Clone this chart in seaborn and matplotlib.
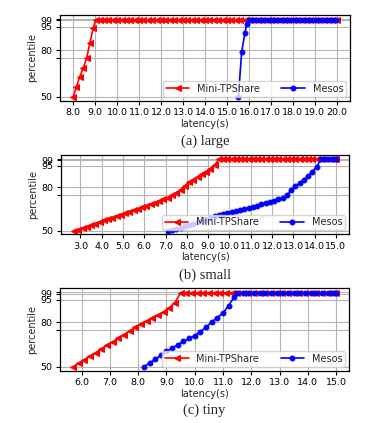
import matplotlib
matplotlib.use("Agg")
import matplotlib.pyplot as plt
import seaborn as sns
import pandas as pd

# ---------------- data ----------------
# (a) large
a_tp_x = [8.0, 8.15, 8.3, 8.46, 8.61, 8.76, 8.91, 9.03,
          9.2, 9.4, 9.6, 9.8, 10.0, 10.2, 10.4, 10.6, 10.8, 11.0, 11.2, 11.4, 11.6, 11.8,
          12.0, 12.2, 12.4, 12.6, 12.8, 13.0, 13.2, 13.4, 13.6, 13.8, 14.0, 14.2, 14.4,
          14.6, 14.8, 15.0, 15.2, 15.4, 15.6, 15.8, 16.0, 16.2, 16.4, 16.6, 16.8, 17.0,
          17.2, 17.4, 17.6, 17.8, 18.0, 18.2, 18.4, 18.6, 18.8, 19.0, 19.2, 19.4, 19.6,
          19.8, 20.0]
a_tp_y = [50.0, 56.5, 62.8, 68.6, 74.7, 84.5, 94.0, 99.5,
          99.5, 99.5, 99.5, 99.5, 99.5, 99.5, 99.5, 99.5, 99.5, 99.5, 99.5, 99.5, 99.5, 99.5,
          99.5, 99.5, 99.5, 99.5, 99.5, 99.5, 99.5, 99.5, 99.5, 99.5, 99.5, 99.5, 99.5,
          99.5, 99.5, 99.5, 99.5, 99.5, 99.5, 99.5, 99.5, 99.5, 99.5, 99.5, 99.5, 99.5,
          99.5, 99.5, 99.5, 99.5, 99.5, 99.5, 99.5, 99.5, 99.5, 99.5, 99.5, 99.5, 99.5,
          99.5, 99.5]
a_me_x = [15.52, 15.67, 15.82, 15.9, 16.0, 16.2, 16.4, 16.6, 16.8, 17.0, 17.2, 17.4,
          17.6, 17.8, 18.0, 18.2, 18.4, 18.6, 18.8, 19.0, 19.2, 19.4, 19.6, 19.8, 19.95]
a_me_y = [50.0, 79.0, 91.0, 97.0, 99.5, 99.5, 99.5, 99.5, 99.5, 99.5, 99.5, 99.5,
          99.5, 99.5, 99.5, 99.5, 99.5, 99.5, 99.5, 99.5, 99.5, 99.5, 99.5, 99.5, 99.5]

# (b) small
b_tp_x = [2.7, 2.9, 3.1, 3.3, 3.5, 3.7, 3.9, 4.1, 4.3, 4.5, 4.7, 4.9, 5.1, 5.3, 5.5,
          5.7, 5.9, 6.1, 6.3, 6.5, 6.7, 6.9, 7.1, 7.3, 7.5, 7.7, 7.9, 8.1, 8.3, 8.5,
          8.7, 8.9, 9.1, 9.3, 9.5,
          9.7, 9.9, 10.1, 10.3, 10.5, 10.7, 10.9, 11.1, 11.3, 11.5, 11.7, 11.9, 12.1,
          12.3, 12.5, 12.7, 12.9, 13.1, 13.3, 13.5, 13.7, 13.9, 14.1, 14.3, 14.5, 14.7,
          14.9, 15.0]
b_tp_y = [50.0, 50.8, 51.7, 52.7, 53.8, 54.9, 56.0, 57.1, 58.1, 59.1, 60.1, 61.1, 62.1,
          63.1, 64.1, 65.1, 66.2, 67.3, 68.4, 69.5, 70.6, 71.7, 73.0, 74.5, 76.3, 78.5,
          81.0, 83.5, 85.5, 87.5, 89.3, 91.0, 93.0, 95.5, 99.5,
          99.5, 99.5, 99.5, 99.5, 99.5, 99.5, 99.5, 99.5, 99.5, 99.5, 99.5, 99.5, 99.5,
          99.5, 99.5, 99.5, 99.5, 99.5, 99.5, 99.5, 99.5, 99.5, 99.5, 99.5, 99.5, 99.5,
          99.5, 99.5]
b_me_x = [7.1, 7.3, 7.5, 7.7, 7.9, 8.1, 8.3, 8.5, 8.7, 8.9, 9.1, 9.3, 9.5, 9.7, 9.9,
          10.1, 10.3, 10.5, 10.7, 10.9, 11.1, 11.3, 11.5, 11.7, 11.9, 12.1, 12.3, 12.5,
          12.7, 12.9, 13.1, 13.3, 13.5, 13.7, 13.9, 14.1, 14.3, 14.5, 14.7, 14.9, 15.0]
b_me_y = [50.0, 50.5, 51.3, 52.1, 53.0, 53.9, 54.8, 55.7, 56.7, 57.7, 58.8, 59.9, 61.0,
          61.7, 62.3, 62.9, 63.6, 64.3, 65.0, 65.8, 66.6, 67.4, 68.2, 69.0, 69.9, 70.9,
          71.8, 72.8, 74.6, 78.0, 81.0, 83.0, 85.5, 88.0, 91.0, 94.5, 99.5, 99.5, 99.5,
          99.5, 99.5]

# (c) tiny
c_tp_x = [5.7, 5.9, 6.1, 6.3, 6.5, 6.7, 6.9, 7.1, 7.3, 7.5, 7.7, 7.9, 8.1, 8.3, 8.5,
          8.7, 8.9, 9.1, 9.3, 9.5,
          9.7, 9.9, 10.1, 10.3, 10.5, 10.7, 10.9, 11.1, 11.3, 11.5, 11.7, 11.9, 12.1,
          12.3, 12.5, 12.7, 12.9, 13.1, 13.3, 13.5, 13.7, 13.9, 14.1, 14.3, 14.5, 14.7,
          14.9, 15.0]
c_tp_y = [50.0, 52.4, 54.8, 57.2, 59.6, 62.0, 64.4, 66.8, 69.2, 71.6, 74.0, 76.4, 78.6,
          80.6, 82.4, 84.4, 86.8, 89.5, 93.0, 99.5,
          99.5, 99.5, 99.5, 99.5, 99.5, 99.5, 99.5, 99.5, 99.5, 99.5, 99.5, 99.5, 99.5,
          99.5, 99.5, 99.5, 99.5, 99.5, 99.5, 99.5, 99.5, 99.5, 99.5, 99.5, 99.5, 99.5,
          99.5, 99.5]
c_me_x = [8.2, 8.4, 8.6, 8.8, 9.0, 9.2, 9.4, 9.6, 9.8, 10.0, 10.2, 10.4, 10.6, 10.8,
          11.0, 11.2, 11.4, 11.5, 11.7, 11.9, 12.1, 12.3, 12.5, 12.7, 12.9, 13.1, 13.3,
          13.5, 13.7, 13.9, 14.1, 14.3, 14.5, 14.7, 14.9, 15.0]
c_me_y = [50.0, 52.7, 55.0, 57.7, 60.4, 62.7, 64.9, 67.0, 69.0, 70.9, 73.5, 76.6, 80.0,
          83.0, 86.0, 91.0, 97.0, 99.5, 99.5, 99.5, 99.5, 99.5, 99.5, 99.5, 99.5, 99.5,
          99.5, 99.5, 99.5, 99.5, 99.5, 99.5, 99.5, 99.5, 99.5, 99.5]

xticks_a = [8.0, 9.0, 10.0, 11.0, 12.0, 13.0, 14.0, 15.0, 16.0, 17.0, 18.0, 19.0, 20.0]
xticks_b = [3.0, 4.0, 5.0, 6.0, 7.0, 8.0, 9.0, 10.0, 11.0, 12.0, 13.0, 14.0, 15.0]
xticks_c = [6.0, 7.0, 8.0, 9.0, 10.0, 11.0, 12.0, 13.0, 14.0, 15.0]
yticks = [50, 75, 80, 95, 99, 99.9]
ytick_labels = ["50", "", "80", "95", "99", ""]
captions = ["(a) large", "(b) small", "(c) tiny"]
series_names = ["Mini-TPShare", "Mesos"]

# ---------------- style ----------------
sns.set_style("whitegrid", {"axes.edgecolor": "black", "grid.color": "#b5b5b5",
                            "xtick.bottom": True, "ytick.left": True})
plt.rcParams["font.family"] = ["DejaVu Sans"]
plt.rcParams["axes.linewidth"] = 0.9
plt.rcParams["grid.linewidth"] = 0.8
plt.rcParams["xtick.major.size"] = 3
plt.rcParams["ytick.major.size"] = 3
plt.rcParams["xtick.major.pad"] = 2.5
plt.rcParams["ytick.major.pad"] = 2.5
plt.rcParams["xtick.color"] = "black"
plt.rcParams["ytick.color"] = "black"

fig = plt.figure(figsize=(3.68, 4.23), dpi=100)
W, H = 368.0, 423.0
boxes = [(60, 15, 350, 100.7), (61, 155, 349, 234.3), (60, 288.3, 349.3, 370.7)]
cap_y = [141, 275, 410]

panels = [
    (a_tp_x, a_tp_y, a_me_x, a_me_y, xticks_a),
    (b_tp_x, b_tp_y, b_me_x, b_me_y, xticks_b),
    (c_tp_x, c_tp_y, c_me_x, c_me_y, xticks_c),
]

for i, (tx, ty, mx, my, xt) in enumerate(panels):
    l, t, r, b = boxes[i]
    ax = fig.add_axes([l / W, 1 - b / H, (r - l) / W, (b - t) / H])
    df_tp = pd.DataFrame({"x": tx, "y": ty})
    df_me = pd.DataFrame({"x": mx, "y": my})
    sns.lineplot(data=df_tp, x="x", y="y", ax=ax, color="red", marker="<",
                 markersize=3.8, markeredgecolor="red", linewidth=1.2,
                 estimator=None, sort=False, label=series_names[0])
    sns.lineplot(data=df_me, x="x", y="y", ax=ax, color="blue", marker="o",
                 markersize=3.5, markeredgecolor="blue", linewidth=1.2,
                 estimator=None, sort=False, label=series_names[1])
    ax.set_xticks(xt)
    ax.set_xticklabels([f"{v:.1f}" for v in xt], fontsize=6.8)
    ax.set_yticks(yticks)
    ax.set_yticklabels(ytick_labels, fontsize=6.8)
    ax.set_ylim(47.5, 102.5)
    ax.set_xlabel("latency(s)", fontsize=7, labelpad=1)
    ax.set_ylabel("percentile", fontsize=7, labelpad=2)
    ax.grid(True, color="#b5b5b5", linewidth=0.8)
    leg = ax.legend(loc="lower right", ncol=2, fontsize=7, handlelength=2.4,
                    columnspacing=2.2, handletextpad=0.8, framealpha=0.8,
                    borderaxespad=0.4, borderpad=0.3)
    fig.text(((l + r) / 2) / W, 1 - cap_y[i] / H, captions[i], ha="center",
             va="center", fontsize=10.5, family=["Liberation Serif"])

fig.savefig("out.png", dpi=100)
